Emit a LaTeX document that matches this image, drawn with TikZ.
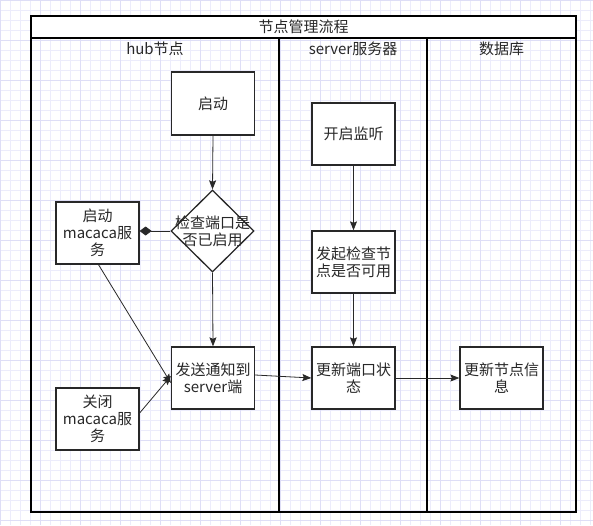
\documentclass[tikz,border=0pt]{standalone}
\usepackage{fontspec}
\setmainfont{Noto Sans CJK SC}
\usetikzlibrary{shapes.geometric,arrows.meta}
\definecolor{ink}{RGB}{40,40,40}
\definecolor{gridminor}{RGB}{236,236,251}
\definecolor{gridmajor}{RGB}{222,222,246}
\tikzset{
  lane/.style={draw=black, line width=1.6pt},
  box/.style={draw=ink, line width=1.3pt, fill=white, minimum width=83pt, minimum height=62pt, inner sep=0pt, align=center, text=ink, font=\fontsize{15}{17}\selectfont},
  lbl/.style={text=ink, font=\fontsize{15}{17}\selectfont, inner sep=0pt, align=center},
  conn/.style={draw=ink, line width=0.8pt, -{Stealth[length=9pt,width=7pt,inset=1.5pt]}},
}
\begin{document}
\begin{tikzpicture}[x=1pt,y=-1pt]
\useasboundingbox (0,0) rectangle (593,525);
\fill[white] (0,0) rectangle (593,525);
% background grid
\foreach \gx in {0,10,...,590} {\draw[gridminor, line width=0.5pt] (\gx,0) -- (\gx,525);}
\foreach \gy in {0,10,...,520} {\draw[gridminor, line width=0.5pt] (0,\gy) -- (593,\gy);}
\foreach \gx in {0,40,...,590} {\draw[gridmajor, line width=0.6pt] (\gx,0) -- (\gx,525);}
\foreach \gy in {0,40,...,520} {\draw[gridmajor, line width=0.6pt] (0,\gy) -- (593,\gy);}
% pool
\fill[white] (31,16) rectangle (576,37.7);
\draw[lane] (31,16) rectangle (576,512);
\draw[lane] (31,37.7) -- (576,37.7);
\draw[lane] (279,37.7) -- (279,512);
\draw[lane] (427,37.7) -- (427,512);
\node[lbl] (title) at (303.5,27) {节点管理流程};
\node[lbl] (hhub) at (155,49) {hub节点};
\node[lbl] (hsrv) at (353,49) {server服务器};
\node[lbl] (hdb) at (501.5,49) {数据库};
% nodes
\node[box, minimum height=63pt] (start) at (213,103.5) {启动};
\node[draw=ink, line width=1.3pt, fill=white, diamond, minimum width=83pt, minimum height=82pt, inner sep=0pt] (dia) at (212.5,231) {};
\node[lbl] (dialbl) at (dia.center) {检查端口是\\否已启用};
\node[box] (mac) at (97.5,233) {启动\\macaca服\\务};
\node[box] (send) at (213,378) {发送通知到\\server端};
\node[box] (close) at (97.5,419) {关闭\\macaca服\\务};
\node[box] (listen) at (353.5,134) {开启监听};
\node[box] (check) at (353.5,262) {发起检查节\\点是否可用};
\node[box] (upd) at (353.5,378) {更新端口状\\态};
\node[box] (info) at (501.5,378) {更新节点信\\息};
% connectors
\draw[conn] (start.south) -- (dia.north);
\draw[draw=ink, line width=0.8pt, -{Diamond[length=12pt,width=9pt]}] (dia.west) -- (mac.east |- dia.west);
\draw[conn] (dia.south) -- (send.north);
\draw[conn] ([xshift=1pt]mac.south) -- ([yshift=-5pt]send.west);
\draw[conn] ([yshift=6pt]close.east) -- ([yshift=2pt]send.west);
\draw[conn] ([yshift=3pt]send.east) -- (upd.west);
\draw[conn] (listen.south) -- (check.north);
\draw[conn] (check.south) -- (upd.north);
\draw[conn] (upd.east) -- (info.west);
\end{tikzpicture}
\end{document}
